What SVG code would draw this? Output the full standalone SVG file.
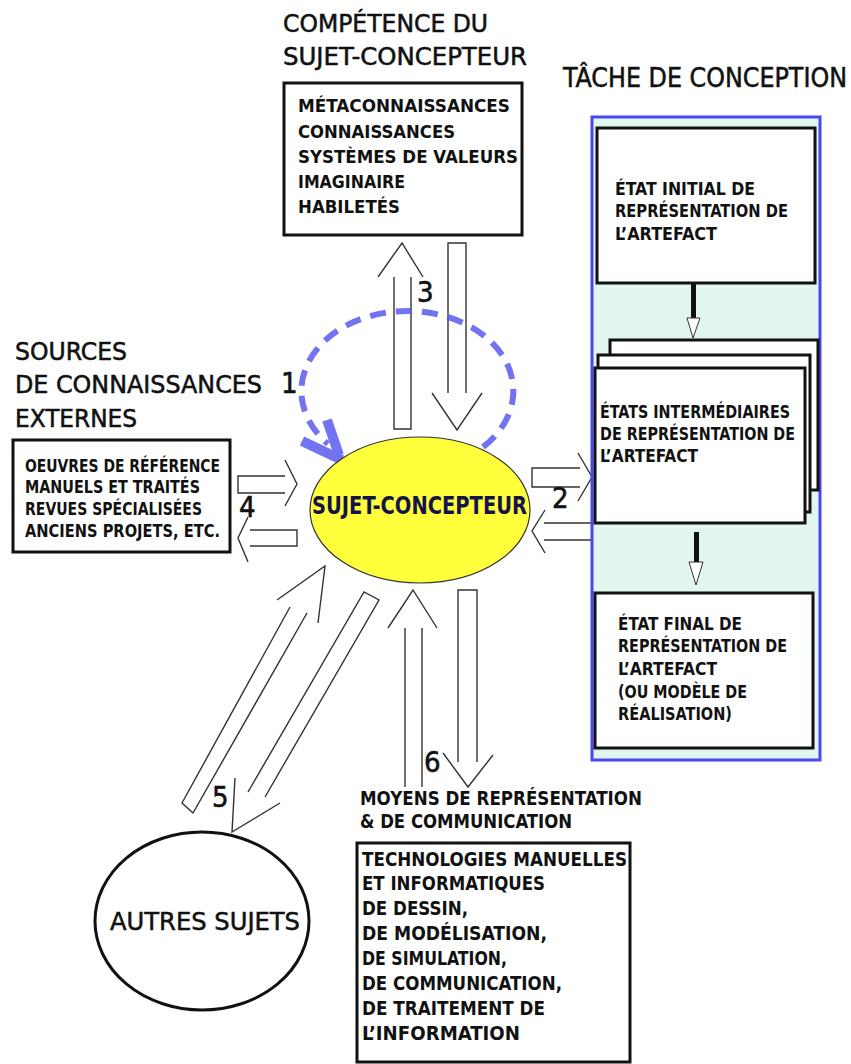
<svg xmlns="http://www.w3.org/2000/svg" width="851" height="1064" viewBox="0 0 851 1064">
<style>
text{font-family:"DejaVu Sans Condensed","DejaVu Sans","Liberation Sans",sans-serif;fill:#111;}
.t{font-size:24px;stroke:#111;stroke-width:0.5;}
.b{font-size:18.5px;font-weight:bold;}
.s{font-size:17.5px;font-weight:bold;}
.bm{font-size:20px;font-weight:bold;}
.n{font-size:29px;stroke:#111;stroke-width:0.6;}
.box{fill:#fff;stroke:#111;stroke-width:3;}
.ha{fill:none;stroke:#333;stroke-width:1.4;stroke-linejoin:miter;}
.loop{fill:none;stroke:#5a5aee;stroke-opacity:0.85;}
</style>
<rect width="851" height="1064" fill="#fff"/>

<g id="connectors">
  <path class="ha" d="M394 277 L394 429 L411 429 L411 277 M378 277 L402 243 L423 277"/>
  <path class="ha" d="M448 393 L448 243 L466 243 L466 393 M432 393 L457 430 L482 393"/>
  <path class="ha" d="M580 468 L532 468 L532 487 L580 487 M578 453 L592 477 L578 501"/>
  <path class="ha" d="M544 523 L592 523 M592 540 L544 540 M545 510 L532 531 L545 553"/>
  <path class="ha" d="M285 476 L238 476 L238 493 L285 493 M285 460 L297 484 L285 506"/>
  <path class="ha" d="M250 530 L297 530 L297 546 L250 546 M248 517 L238 538 L248 562"/>
  <path class="ha" d="M290 607 L182 803 L193 813 L307 613 M277 600 L325 566 L318 623"/>
  <path class="ha" d="M248 792 L364 592 L379 600 L265 797 M235 778 L232 832 L280 803"/>
  <path class="ha" d="M405 787 L405 628 M422 628 L422 787 M388 628 L413 590 L437 628"/>
  <path class="ha" d="M458 762 L458 590 L477 590 L477 762 M443 753 L468 787 L493 755"/>
  <path class="loop" stroke-width="6" stroke-dasharray="16 10" d="M483 447 A106 80 0 1 0 328 444"/>
  <path class="loop" stroke-width="10" d="M302 441 L342 460 M327 420 L339 455"/>
</g>

<g id="competence">
  <text class="t" x="283" y="32" textLength="205" lengthAdjust="spacingAndGlyphs">COMPÉTENCE DU</text>
  <text class="t" x="283" y="65" textLength="244" lengthAdjust="spacingAndGlyphs">SUJET-CONCEPTEUR</text>
  <rect class="box" x="284" y="83" width="238" height="152"/>
  <text class="b" x="298" y="112" textLength="212" lengthAdjust="spacingAndGlyphs">MÉTACONNAISSANCES</text>
  <text class="b" x="298" y="138" textLength="157" lengthAdjust="spacingAndGlyphs">CONNAISSANCES</text>
  <text class="b" x="298" y="163" textLength="220" lengthAdjust="spacingAndGlyphs">SYSTÈMES DE VALEURS</text>
  <text class="b" x="298" y="188" textLength="107" lengthAdjust="spacingAndGlyphs">IMAGINAIRE</text>
  <text class="b" x="298" y="213" textLength="102" lengthAdjust="spacingAndGlyphs">HABILETÉS</text>
</g>

<g id="tache">
  <text class="t" x="563" y="87" style="font-size:26px" textLength="284" lengthAdjust="spacingAndGlyphs">TÂCHE DE CONCEPTION</text>
  <rect x="592" y="117" width="228" height="643" fill="#e0f6ef" stroke="#4848ee" stroke-width="3"/>
  <g id="etat-initial">
    <rect class="box" x="597" y="128" width="218" height="155"/>
    <text class="s" x="615" y="195" textLength="140" lengthAdjust="spacingAndGlyphs">ÉTAT INITIAL DE</text>
    <text class="s" x="615" y="217" textLength="173" lengthAdjust="spacingAndGlyphs">REPRÉSENTATION DE</text>
    <text class="s" x="615" y="240" textLength="102" lengthAdjust="spacingAndGlyphs">L’ARTEFACT</text>
  </g>
  <g id="fleche-a">
    <rect x="691" y="283" width="5" height="36" fill="#111"/>
    <polygon points="687,318 700,318 693,338" fill="#fff" stroke="#333" stroke-width="1"/>
  </g>
  <g id="etats-intermediaires">
    <rect class="box" x="610" y="340" width="208" height="150"/>
    <rect class="box" x="598" y="355" width="212" height="157"/>
    <rect class="box" x="595" y="368" width="210" height="155"/>
    <text class="s" x="600" y="418" textLength="190" lengthAdjust="spacingAndGlyphs">ÉTATS INTERMÉDIAIRES</text>
    <text class="s" x="600" y="440" textLength="195" lengthAdjust="spacingAndGlyphs">DE REPRÉSENTATION DE</text>
    <text class="s" x="600" y="462" textLength="98" lengthAdjust="spacingAndGlyphs">L’ARTEFACT</text>
  </g>
  <g id="fleche-b">
    <rect x="694" y="532" width="5" height="31" fill="#111"/>
    <polygon points="689,562 703,562 696,585" fill="#fff" stroke="#333" stroke-width="1"/>
  </g>
  <g id="etat-final">
    <rect class="box" x="595" y="593" width="218" height="155"/>
    <text class="s" x="618" y="630" textLength="124" lengthAdjust="spacingAndGlyphs">ÉTAT FINAL DE</text>
    <text class="s" x="618" y="652" textLength="169" lengthAdjust="spacingAndGlyphs">REPRÉSENTATION DE</text>
    <text class="s" x="618" y="675" textLength="99" lengthAdjust="spacingAndGlyphs">L’ARTEFACT</text>
    <text class="s" x="618" y="698" textLength="129" lengthAdjust="spacingAndGlyphs">(OU MODÈLE DE</text>
    <text class="s" x="618" y="720" textLength="114" lengthAdjust="spacingAndGlyphs">RÉALISATION)</text>
  </g>
</g>

<g id="sources">
  <text class="t" x="15" y="360" textLength="112" lengthAdjust="spacingAndGlyphs">SOURCES</text>
  <text class="t" x="15" y="393" textLength="247" lengthAdjust="spacingAndGlyphs">DE CONNAISSANCES</text>
  <text class="t" x="15" y="427" textLength="122" lengthAdjust="spacingAndGlyphs">EXTERNES</text>
  <rect class="box" x="13" y="440" width="217" height="112"/>
  <text class="s" x="25" y="472" textLength="195" lengthAdjust="spacingAndGlyphs">OEUVRES DE RÉFÉRENCE</text>
  <text class="s" x="25" y="493" textLength="175" lengthAdjust="spacingAndGlyphs">MANUELS ET TRAITÉS</text>
  <text class="s" x="25" y="515" textLength="177" lengthAdjust="spacingAndGlyphs">REVUES SPÉCIALISÉES</text>
  <text class="s" x="25" y="537" textLength="195" lengthAdjust="spacingAndGlyphs">ANCIENS PROJETS, ETC.</text>
</g>

<g id="sujet-concepteur">
  <ellipse cx="420" cy="510" rx="110" ry="73" fill="#ffff3c" stroke="#333" stroke-width="1.2"/>
  <text x="312" y="514" style="font-size:25px;font-weight:bold;fill:#14144a" textLength="215" lengthAdjust="spacingAndGlyphs">SUJET-CONCEPTEUR</text>
</g>

<g id="autres-sujets">
  <ellipse cx="202" cy="921" rx="107" ry="89" fill="#fff" stroke="#111" stroke-width="3"/>
  <text x="110" y="930" style="font-size:25px;stroke:#111;stroke-width:0.5" textLength="190" lengthAdjust="spacingAndGlyphs">AUTRES SUJETS</text>
</g>

<g id="moyens">
  <text class="bm" x="360" y="805" textLength="282" lengthAdjust="spacingAndGlyphs">MOYENS DE REPRÉSENTATION</text>
  <text class="bm" x="360" y="828" textLength="212" lengthAdjust="spacingAndGlyphs">&amp; DE COMMUNICATION</text>
  <rect class="box" x="357" y="843" width="273" height="219"/>
  <text class="bm" x="362" y="866" textLength="265" lengthAdjust="spacingAndGlyphs">TECHNOLOGIES MANUELLES</text>
  <text class="bm" x="362" y="890" textLength="183" lengthAdjust="spacingAndGlyphs">ET INFORMATIQUES</text>
  <text class="bm" x="362" y="915" textLength="106" lengthAdjust="spacingAndGlyphs">DE DESSIN,</text>
  <text class="bm" x="362" y="940" textLength="185" lengthAdjust="spacingAndGlyphs">DE MODÉLISATION,</text>
  <text class="bm" x="362" y="965" textLength="145" lengthAdjust="spacingAndGlyphs">DE SIMULATION,</text>
  <text class="bm" x="362" y="990" textLength="200" lengthAdjust="spacingAndGlyphs">DE COMMUNICATION,</text>
  <text class="bm" x="362" y="1015" textLength="183" lengthAdjust="spacingAndGlyphs">DE TRAITEMENT DE</text>
  <text class="bm" x="362" y="1040" textLength="158" lengthAdjust="spacingAndGlyphs">L’INFORMATION</text>
</g>

<g id="labels">
  <text class="n" x="281" y="393">1</text>
  <text class="n" x="552" y="508">2</text>
  <text class="n" x="417" y="302">3</text>
  <text class="n" x="239" y="517">4</text>
  <text class="n" x="212" y="807">5</text>
  <text class="n" x="424" y="772">6</text>
</g>
</svg>
